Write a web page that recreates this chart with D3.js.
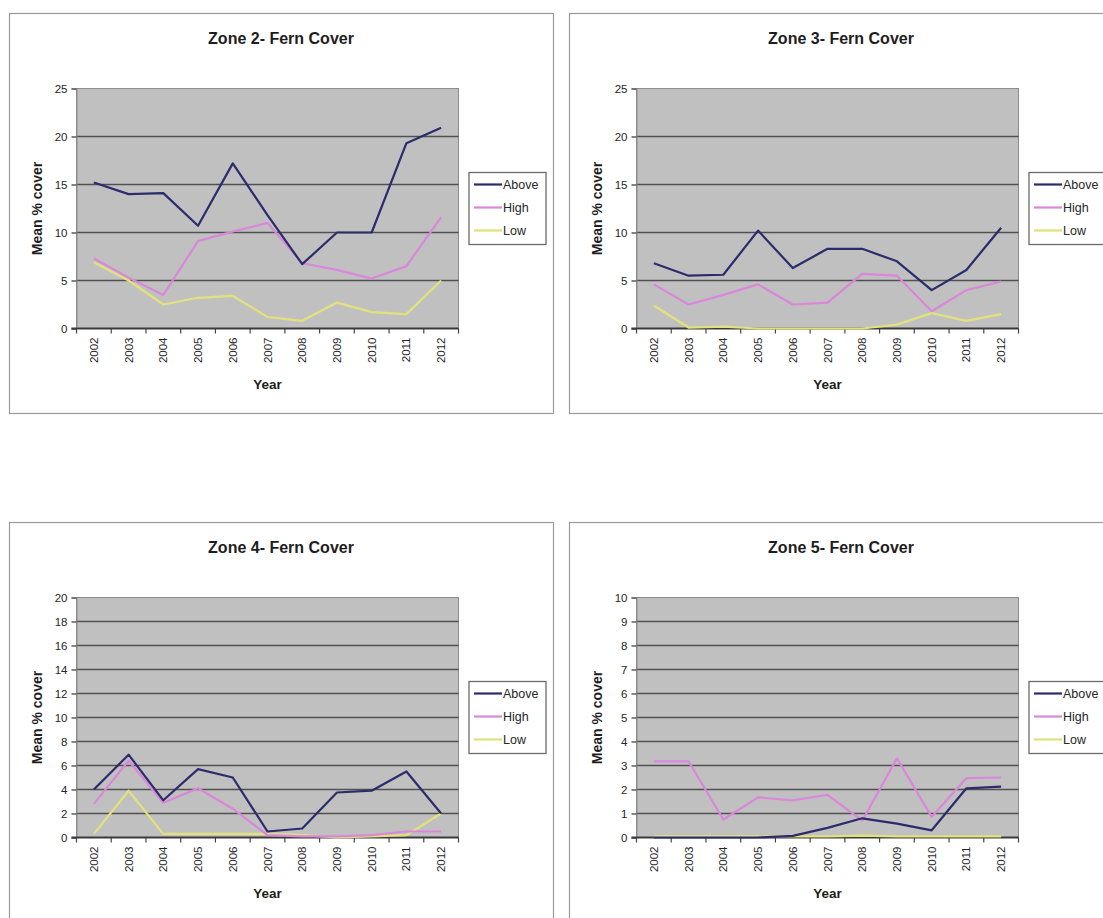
<!DOCTYPE html>
<html>
<head>
<meta charset="utf-8">
<script src="https://cdn.jsdelivr.net/npm/d3@7"></script>
<style>
  html, body { margin: 0; padding: 0; background: #ffffff; }
  svg { display: block; font-family: Arial, "Liberation Sans", sans-serif; }
</style>
</head>
<body>
<svg id="fig" width="1103" height="918"></svg>
<script>
// Survey years and series shared by every zone
const years = ["2002", "2003", "2004", "2005", "2006", "2007", "2008", "2009", "2010", "2011", "2012"];
const seriesNames = ["Above", "High", "Low"];

// Mean % fern cover per zone and series
const zone2Above = [15.2, 14.0, 14.1, 10.7, 17.2, 11.8, 6.7, 10.0, 10.0, 19.3, 20.9];
const zone2High  = [7.3, 5.3, 3.5, 9.1, 10.1, 11.0, 6.8, 6.1, 5.2, 6.5, 11.6];
const zone2Low   = [6.9, 5.0, 2.5, 3.2, 3.4, 1.2, 0.8, 2.7, 1.7, 1.5, 5.0];

const zone3Above = [6.8, 5.5, 5.6, 10.2, 6.3, 8.3, 8.3, 7.0, 4.0, 6.1, 10.5];
const zone3High  = [4.6, 2.5, 3.5, 4.6, 2.5, 2.7, 5.7, 5.5, 1.8, 4.0, 4.9];
const zone3Low   = [2.4, 0.1, 0.2, 0.0, 0.0, 0.0, 0.0, 0.4, 1.6, 0.8, 1.5];

const zone4Above = [4.0, 6.9, 3.1, 5.7, 5.0, 0.5, 0.75, 3.75, 3.9, 5.5, 2.0];
const zone4High  = [2.8, 6.4, 2.9, 4.1, 2.4, 0.2, 0.1, 0.1, 0.2, 0.5, 0.5];
const zone4Low   = [0.3, 3.9, 0.3, 0.3, 0.3, 0.3, 0.2, 0.0, 0.1, 0.2, 2.0];

const zone5Above = [0.0, 0.0, 0.0, 0.0, 0.07, 0.4, 0.8, 0.58, 0.3, 2.05, 2.12];
const zone5High  = [3.17, 3.17, 0.75, 1.67, 1.55, 1.78, 0.7, 3.3, 0.86, 2.47, 2.5];
const zone5Low   = [0.05, 0.05, 0.05, 0.05, 0.05, 0.05, 0.08, 0.05, 0.05, 0.05, 0.05];

// Chart titles and y-axis tick values
const titles = ["Zone 2- Fern Cover", "Zone 3- Fern Cover", "Zone 4- Fern Cover", "Zone 5- Fern Cover"];
const ticksZone2 = [0, 5, 10, 15, 20, 25];
const ticksZone3 = [0, 5, 10, 15, 20, 25];
const ticksZone4 = [0, 2, 4, 6, 8, 10, 12, 14, 16, 18, 20];
const ticksZone5 = [0, 1, 2, 3, 4, 5, 6, 7, 8, 9, 10];

const seriesColors = { Above: "#2c2c6c", High: "#da86da", Low: "#e2e27c" };

const panels = [
  { title: titles[0], ticks: ticksZone2, values: [zone2Above, zone2High, zone2Low], x: 9,   y: 13 },
  { title: titles[1], ticks: ticksZone3, values: [zone3Above, zone3High, zone3Low], x: 569, y: 13 },
  { title: titles[2], ticks: ticksZone4, values: [zone4Above, zone4High, zone4Low], x: 9,   y: 522 },
  { title: titles[3], ticks: ticksZone5, values: [zone5Above, zone5High, zone5Low], x: 569, y: 522 }
];

const svg = d3.select("#fig");
const boxW = 544, boxH = 400;
const plotDX = 67.5, plotDY = 75.5, plotW = 382, plotH = 240;
const textColor = "#262626";

panels.forEach(p => {
  const g = svg.append("g").attr("transform", `translate(${p.x},${p.y})`);

  // chart frame
  g.append("rect")
    .attr("x", 0.5).attr("y", 0.5)
    .attr("width", boxW).attr("height", boxH)
    .attr("fill", "#ffffff").attr("stroke", "#9a9a9a").attr("stroke-width", 1.2);

  // title
  g.append("text")
    .attr("x", boxW / 2).attr("y", 31)
    .attr("text-anchor", "middle")
    .attr("font-size", 16).attr("font-weight", "bold").attr("fill", "#1e1e1e")
    .text(p.title);

  const plot = g.append("g").attr("transform", `translate(${plotDX},${plotDY})`);

  const x = d3.scaleBand().domain(years).range([0, plotW]).padding(0);
  const y = d3.scaleLinear().domain([0, d3.max(p.ticks)]).range([plotH, 0]);

  // plot background
  plot.append("rect")
    .attr("width", plotW).attr("height", plotH)
    .attr("fill", "#c0c0c0").attr("stroke", "#8c8c8c").attr("stroke-width", 1);

  // horizontal gridlines
  plot.selectAll("line.grid")
    .data(p.ticks.filter(t => t > 0 && t < d3.max(p.ticks)))
    .join("line")
    .attr("class", "grid")
    .attr("x1", 0).attr("x2", plotW)
    .attr("y1", d => y(d)).attr("y2", d => y(d))
    .attr("stroke", "#505050").attr("stroke-width", 1.6);

  // y axis
  const yAxis = d3.axisLeft(y).tickValues(p.ticks).tickSize(5).tickPadding(4);
  const ya = plot.append("g").call(yAxis);
  ya.select(".domain").attr("stroke", "#8c8c8c");
  ya.selectAll(".tick line").attr("stroke", "#505050").attr("stroke-width", 1.4);
  ya.selectAll(".tick text")
    .attr("font-size", 11.5).attr("fill", textColor)
    .attr("font-family", "Arial, 'Liberation Sans', sans-serif");

  // x axis: ticks at category boundaries, labels rotated
  const xa = plot.append("g").attr("transform", `translate(0,${plotH})`)
    .call(d3.axisBottom(x).tickSize(0).tickPadding(0));
  xa.select(".domain").remove();
  xa.selectAll(".tick text")
    .attr("font-size", 11.5).attr("fill", textColor)
    .attr("font-family", "Arial, 'Liberation Sans', sans-serif")
    .attr("text-anchor", "end")
    .attr("transform", "translate(0,9) rotate(-90)")
    .attr("dx", 0).attr("dy", "0.35em").attr("x", 0).attr("y", 0);

  const bounds = years.map(yr => x(yr)).concat([plotW]);
  plot.append("g").selectAll("line")
    .data(bounds)
    .join("line")
    .attr("x1", d => d).attr("x2", d => d)
    .attr("y1", plotH).attr("y2", plotH + 5)
    .attr("stroke", "#444444").attr("stroke-width", 1.2);

  plot.append("line")
    .attr("x1", -5).attr("x2", plotW)
    .attr("y1", plotH).attr("y2", plotH)
    .attr("stroke", "#3a3a3a").attr("stroke-width", 2);

  // series lines
  const line = d3.line()
    .x((d, i) => x(years[i]) + x.bandwidth() / 2)
    .y(d => y(d));

  // draw Low first so Above sits on top
  [2, 1, 0].forEach(si => {
    plot.append("path")
      .datum(p.values[si])
      .attr("d", line)
      .attr("fill", "none")
      .attr("stroke", seriesColors[seriesNames[si]])
      .attr("stroke-width", 2.2)
      .attr("stroke-linejoin", "round");
  });

  // axis titles
  g.append("text")
    .attr("transform", `translate(${28},${plotDY + plotH / 2}) rotate(-90)`)
    .attr("text-anchor", "middle").attr("dy", "0.35em")
    .attr("font-size", 14).attr("font-weight", "bold").attr("fill", "#1e1e1e")
    .text("Mean % cover");

  g.append("text")
    .attr("x", plotDX + plotW / 2).attr("y", plotDY + plotH + 60)
    .attr("text-anchor", "middle")
    .attr("font-size", 13.5).attr("font-weight", "bold").attr("fill", "#1e1e1e")
    .text("Year");

  // legend
  const lg = g.append("g").attr("transform", `translate(${460},${159.5})`);
  lg.append("rect")
    .attr("width", 77).attr("height", 72)
    .attr("fill", "#ffffff").attr("stroke", "#6a6a6a").attr("stroke-width", 1.3);
  seriesNames.forEach((name, i) => {
    const yy = 12 + i * 23;
    lg.append("line")
      .attr("x1", 5).attr("x2", 33).attr("y1", yy).attr("y2", yy)
      .attr("stroke", seriesColors[name]).attr("stroke-width", 2.2);
    lg.append("text")
      .attr("x", 34).attr("y", yy).attr("dy", "0.35em")
      .attr("font-size", 12.5).attr("fill", textColor)
      .text(name);
  });
});
</script>
</body>
</html>
